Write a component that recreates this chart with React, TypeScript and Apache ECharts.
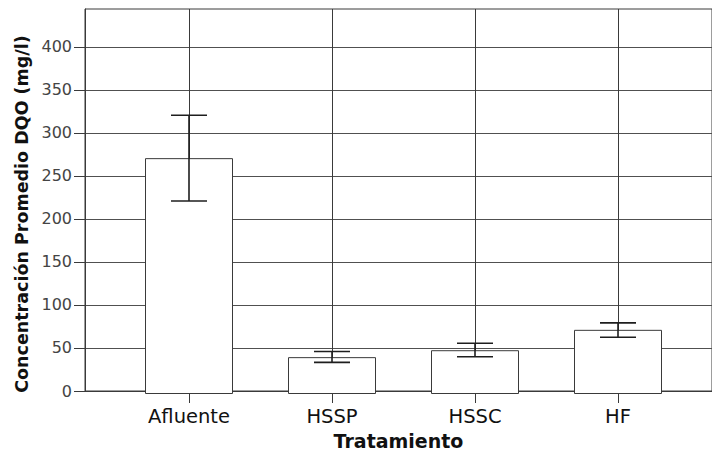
import React, { useEffect, useRef } from "react";
import * as echarts from "echarts";

const categories = ["Afluente", "HSSP", "HSSC", "HF"];
const means = [272, 42.5, 50.5, 74];
const ciLow = [222.5, 36.5, 43, 65.5];
const ciHigh = [321.5, 49, 58.5, 82];
const yTicks = [0, 50, 100, 150, 200, 250, 300, 350, 400];
const yMax = 444;

const FONT = "DejaVu Sans";
const LINE = "#3a3a3a";

export default function App() {
  const ref = useRef<HTMLDivElement>(null);
  useEffect(() => {
    if (!ref.current) return;
    const chart = echarts.init(ref.current, undefined, { renderer: "svg" });
    const errData = categories.map((_, i) => [i, ciLow[i], ciHigh[i]]);
    chart.setOption({
      animation: false,
      backgroundColor: "#ffffff",
      grid: [
        {
          left: 85, top: 9, width: 637, height: 385,
          show: true, borderColor: LINE, borderWidth: 1, backgroundColor: "transparent",
          containLabel: false,
        },
        { left: 189, top: 9, width: 429, height: 385, containLabel: false },
      ],
      xAxis: [
        {
          type: "value", gridIndex: 0, min: 0, max: 1,
          axisLine: { show: true, onZero: false, lineStyle: { color: LINE, width: 1 } },
          axisTick: { show: false }, axisLabel: { show: false }, splitLine: { show: false },
          name: "Tratamiento", nameLocation: "middle", nameGap: 40,
          nameTextStyle: { fontFamily: FONT, fontWeight: "bold", fontSize: 19, color: "#111" },
        },
        {
          type: "category", gridIndex: 1, data: categories, boundaryGap: false,
          axisLine: { show: false },
          axisTick: { show: true, length: 9, lineStyle: { color: LINE } },
          axisLabel: { fontFamily: FONT, fontSize: 19.5, color: "#111", margin: 12 },
          splitLine: { show: true, lineStyle: { color: LINE, width: 1 } },
        },
      ],
      yAxis: [
        {
          type: "value", gridIndex: 0, min: 0, max: yMax, interval: 50,
          axisLine: { show: true, lineStyle: { color: LINE, width: 1 } },
          axisTick: { show: true, length: 11, customValues: yTicks, lineStyle: { color: LINE } },
          axisLabel: {
            customValues: yTicks, fontFamily: FONT, fontSize: 16, color: "#444", margin: 13,
            formatter: (v: number) => (v % 50 === 0 && v <= 400 ? String(v) : ""),
          },
          splitLine: { show: true, lineStyle: { color: "#505050", width: 1 } },
          name: "Concentración Promedio DQO (mg/l)", nameLocation: "middle", nameGap: 52,
          nameTextStyle: {
            fontFamily: FONT, fontWeight: "bold", fontSize: 17.5, color: "#111",
            padding: [0, 28, 0, 0],
          },
        },
        {
          type: "value", gridIndex: 1, min: 0, max: yMax, show: false,
          splitLine: { show: false },
        },
      ],
      series: [
        {
          type: "bar", xAxisIndex: 1, yAxisIndex: 1, data: means, barWidth: 88, clip: false,
          itemStyle: { color: "#ffffff", borderColor: LINE, borderWidth: 1 },
          z: 3,
        },
        {
          type: "custom", xAxisIndex: 1, yAxisIndex: 1, data: errData, clip: false, z: 5,
          encode: { x: 0, y: [1, 2] },
          renderItem: (params: any, api: any) => {
            const idx = api.value(0);
            const lo = api.coord([idx, api.value(1)]);
            const hi = api.coord([idx, api.value(2)]);
            const hw = 18;
            const style = { stroke: "#1e1e1e", lineWidth: 1.6 };
            return {
              type: "group",
              children: [
                { type: "line", shape: { x1: lo[0], y1: lo[1], x2: hi[0], y2: hi[1] }, style },
                { type: "line", shape: { x1: hi[0] - hw, y1: hi[1], x2: hi[0] + hw, y2: hi[1] }, style },
                { type: "line", shape: { x1: lo[0] - hw, y1: lo[1], x2: lo[0] + hw, y2: lo[1] }, style },
              ],
            };
          },
        },
      ],
    });
    return () => chart.dispose();
  }, []);
  return (
    <div
      ref={ref}
      style={{ position: "fixed", left: 0, top: 0, width: 712, height: 455, background: "#fff" }}
    />
  );
}
